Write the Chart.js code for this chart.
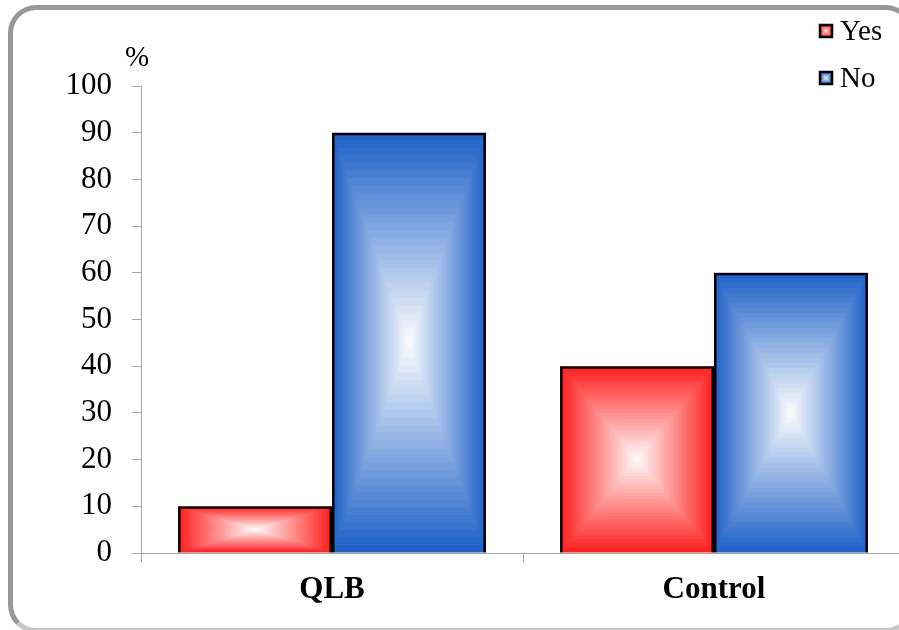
<!DOCTYPE html>
<html>
<head>
<meta charset="utf-8">
<script src="https://cdn.jsdelivr.net/npm/chart.js@4.4.1/dist/chart.umd.min.js"></script>
<style>
  html, body { margin: 0; padding: 0; background: #ffffff; overflow: hidden; width: 899px; height: 630px; }
  #frame { position: absolute; left: 8px; top: 5px; width: 906px; height: 628px; box-sizing: border-box;
           border: 5px solid #989898; border-bottom-color: #c8c8c8; border-radius: 28px; }
  #wrap { position: absolute; left: 0; top: 0; width: 915px; height: 630px; }
</style>
</head>
<body>
<div id="frame"></div>
<div id="wrap"><canvas id="c"></canvas></div>
<script>
const categories = ['QLB', 'Control'];
const seriesNames = ['Yes', 'No'];
const yesValues = [10, 40];
const noValues = [90, 60];
const yTickValues = [0, 10, 20, 30, 40, 50, 60, 70, 80, 90, 100];
const yAxisUnit = '%';

const edgeColors = [[255, 32, 32], [32, 98, 200]];
const FONT = "'Liberation Serif', 'Times New Roman', serif";

function mixColor(c, t) { // t=0 -> edge color, t=1 -> white
  const r = Math.round(c[0] + (255 - c[0]) * t);
  const g = Math.round(c[1] + (255 - c[1]) * t);
  const b = Math.round(c[2] + (255 - c[2]) * t);
  return 'rgb(' + r + ',' + g + ',' + b + ')';
}
function rectGradient(ctx, left, top, w, h, color, bands) {
  for (let i = 0; i < bands; i++) {
    const f = i / bands;
    const dx = (w / 2) * f, dy = (h / 2) * f;
    ctx.fillStyle = mixColor(color, f);
    ctx.fillRect(left + dx, top + dy, w - 2 * dx, h - 2 * dy);
  }
}

const gradientBars = {
  id: 'gradientBars',
  beforeDatasetsDraw(chart) {
    const ctx = chart.ctx;
    ctx.save();
    chart.data.datasets.forEach((ds, di) => {
      const meta = chart.getDatasetMeta(di);
      meta.data.forEach(el => {
        const p = el.getProps(['x', 'y', 'base', 'width'], true);
        const left = p.x - p.width / 2;
        const top = Math.min(p.y, p.base);
        const h = Math.abs(p.base - p.y);
        rectGradient(ctx, left, top, p.width, h, edgeColors[di], 28);
      });
    });
    ctx.restore();
  },
  afterDraw(chart) {
    const ctx = chart.ctx;
    ctx.save();
    // unit label
    ctx.fillStyle = '#000';
    ctx.font = '29px ' + FONT;
    ctx.textAlign = 'center';
    ctx.textBaseline = 'middle';
    ctx.fillText(yAxisUnit, 137, 58);
    // legend
    const ys = [31, 78];
    chart.data.datasets.forEach((ds, di) => {
      const bx = 820, by = ys[di] - 6, bs = 12;
      rectGradient(ctx, bx, by, bs, bs, edgeColors[di], 6);
      ctx.lineWidth = 2.5;
      ctx.strokeStyle = '#000';
      ctx.strokeRect(bx, by, bs, bs);
      ctx.fillStyle = '#000';
      ctx.font = '29px ' + FONT;
      ctx.textAlign = 'left';
      ctx.textBaseline = 'middle';
      ctx.fillText(ds.label, 840, ys[di] + 1);
    });
    ctx.restore();
  }
};

new Chart(document.getElementById('c'), {
  type: 'bar',
  data: {
    labels: categories,
    datasets: [
      { label: seriesNames[0], data: yesValues, backgroundColor: 'rgba(0,0,0,0)', borderColor: '#000', borderWidth: 2.5 },
      { label: seriesNames[1], data: noValues, backgroundColor: 'rgba(0,0,0,0)', borderColor: '#000', borderWidth: 2.5 }
    ]
  },
  options: {
    responsive: true,
    maintainAspectRatio: false,
    animation: false,
    devicePixelRatio: 1,
    layout: { padding: { left: 0, top: 86, right: 10, bottom: 0 } },
    datasets: { bar: { barPercentage: 1, categoryPercentage: 0.806 } },
    plugins: { legend: { display: false }, tooltip: { enabled: false } },
    scales: {
      x: {
        grid: { display: true, drawOnChartArea: false, drawTicks: true, tickLength: 9, color: '#a6a6a6', offset: true },
        border: { display: true, color: '#a6a6a6', width: 1 },
        ticks: { color: '#000', font: { family: FONT, size: 31, weight: 'bold' }, padding: 9 },
        afterFit(scale) { scale.height = 77; }
      },
      y: {
        min: 0, max: 100,
        afterBuildTicks(scale) { scale.ticks = yTickValues.map(v => ({ value: v })); },
        grid: { display: true, drawOnChartArea: false, drawTicks: true, tickLength: 9, color: '#a6a6a6' },
        border: { display: true, color: '#a6a6a6', width: 1 },
        ticks: { color: '#000', font: { family: FONT, size: 31 }, padding: 20 },
        afterFit(scale) { scale.width = 141; }
      }
    }
  },
  plugins: [gradientBars]
});
</script>
</body>
</html>
